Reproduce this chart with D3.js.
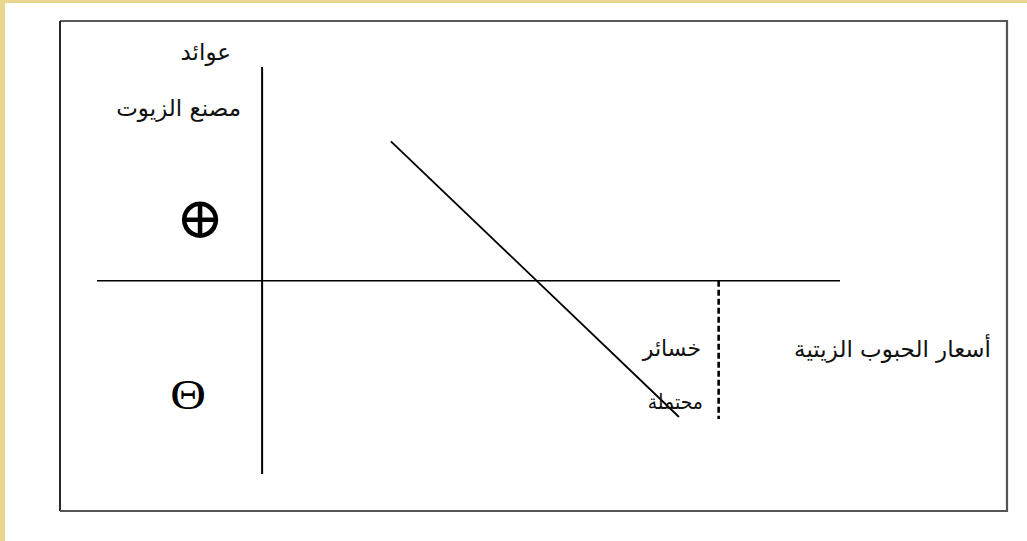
<!DOCTYPE html>
<html lang="ar">
<head>
<meta charset="utf-8">
<script src="https://cdn.jsdelivr.net/npm/d3@7/dist/d3.min.js"></script>
<style>
  html, body { margin: 0; padding: 0; background: #ffffff; }
  svg { display: block; }
  .lbl { font-family: "DejaVu Sans", sans-serif; fill: #111; }
</style>
</head>
<body>
<svg id="chart" width="1027" height="541"></svg>
<script>
// Axis extents (price of oilseeds on x, factory returns on y)
const xExtent = [-20, 70];
const yExtent = [-19, 21];

// Returns line: falls as oilseed prices rise
const returnLine = [
  { price: 15.6, ret: 13.7 },
  { price: 50.5, ret: -13.4 }
];

// Threshold price beyond which losses are possible
const thresholdPrice = 55.3;
const thresholdDepth = [0, -13.6];

// Labels
const yTitle = ["عوائد", "مصنع الزيوت"];
const xTitle = "أسعار الحبوب الزيتية";
const lossLabel = ["خسائر", "محتملة"];
const signLabels = ["⊕", "Θ"];

const W = 1027, H = 541;
const svg = d3.select("#chart");

// Page background with the pale yellow edge strips
svg.append("rect").attr("x", 0).attr("y", 0).attr("width", W).attr("height", H).attr("fill", "#ffffff");
svg.append("rect").attr("x", 0).attr("y", 0).attr("width", W).attr("height", 3).attr("fill", "#e9d78f");
svg.append("rect").attr("x", 0).attr("y", 0).attr("width", 5).attr("height", H).attr("fill", "#e9d78f");

// Frame around the figure
const frame = { l: 60, t: 21, r: 1007, b: 511 };
svg.append("line").attr("x1", frame.l).attr("y1", frame.t).attr("x2", frame.r).attr("y2", frame.t)
  .attr("stroke", "#222").attr("stroke-width", 1.6);
svg.append("line").attr("x1", frame.l).attr("y1", frame.t).attr("x2", frame.l).attr("y2", frame.b)
  .attr("stroke", "#111").attr("stroke-width", 1.8);
svg.append("line").attr("x1", frame.r).attr("y1", frame.t - 1).attr("x2", frame.r).attr("y2", frame.b + 1)
  .attr("stroke", "#555").attr("stroke-width", 2.2);
svg.append("line").attr("x1", frame.l).attr("y1", frame.b).attr("x2", frame.r).attr("y2", frame.b)
  .attr("stroke", "#555").attr("stroke-width", 1.8);

// Scales
const x = d3.scaleLinear().domain(xExtent).range([97, 840]);
const y = d3.scaleLinear().domain(yExtent).range([474, 67]);

// Axes: horizontal at zero return, vertical at zero price
svg.append("line")
  .attr("x1", x(xExtent[0])).attr("x2", x(xExtent[1]))
  .attr("y1", y(0)).attr("y2", y(0))
  .attr("stroke", "#000").attr("stroke-width", 1.4);
svg.append("line")
  .attr("x1", x(0)).attr("x2", x(0))
  .attr("y1", y(yExtent[1])).attr("y2", y(yExtent[0]))
  .attr("stroke", "#000").attr("stroke-width", 2);

// Returns line
const line = d3.line().x(d => x(d.price)).y(d => y(d.ret));
svg.append("path")
  .datum(returnLine)
  .attr("d", line)
  .attr("fill", "none")
  .attr("stroke", "#000")
  .attr("stroke-width", 1.8);

// Dashed threshold line
svg.append("line")
  .attr("x1", x(thresholdPrice)).attr("x2", x(thresholdPrice))
  .attr("y1", y(thresholdDepth[0])).attr("y2", y(thresholdDepth[1]))
  .attr("stroke", "#000").attr("stroke-width", 2.6)
  .attr("stroke-dasharray", "6,3");

// Y-axis title (two lines)
svg.append("text").attr("class", "lbl")
  .attr("x", 231).attr("y", 60).attr("text-anchor", "end")
  .attr("font-size", 23).text(yTitle[0]);
svg.append("text").attr("class", "lbl")
  .attr("x", 241).attr("y", 116).attr("text-anchor", "end")
  .attr("font-size", 23).text(yTitle[1]);

// X-axis title
svg.append("text").attr("class", "lbl")
  .attr("x", 991).attr("y", 357).attr("text-anchor", "end")
  .attr("font-size", 23).text(xTitle);

// Possible losses label
svg.append("text").attr("class", "lbl")
  .attr("x", 701).attr("y", 356).attr("text-anchor", "end")
  .attr("font-size", 22).text(lossLabel[0]);
svg.append("text").attr("class", "lbl")
  .attr("transform", "translate(703,409) scale(0.9,1)")
  .attr("text-anchor", "end")
  .attr("font-size", 21).text(lossLabel[1]);

// Sign markers for the gain and loss regions
svg.append("text")
  .attr("x", 200).attr("y", 238).attr("text-anchor", "middle")
  .attr("font-family", "DejaVu Serif, serif").attr("font-size", 58)
  .attr("fill", "#000").text(signLabels[0]);
svg.append("text")
  .attr("transform", "translate(188,409) scale(1.15,1)")
  .attr("text-anchor", "middle")
  .attr("font-family", "Liberation Serif, serif").attr("font-size", 43)
  .attr("fill", "#000").text(signLabels[1]);
</script>
</body>
</html>
